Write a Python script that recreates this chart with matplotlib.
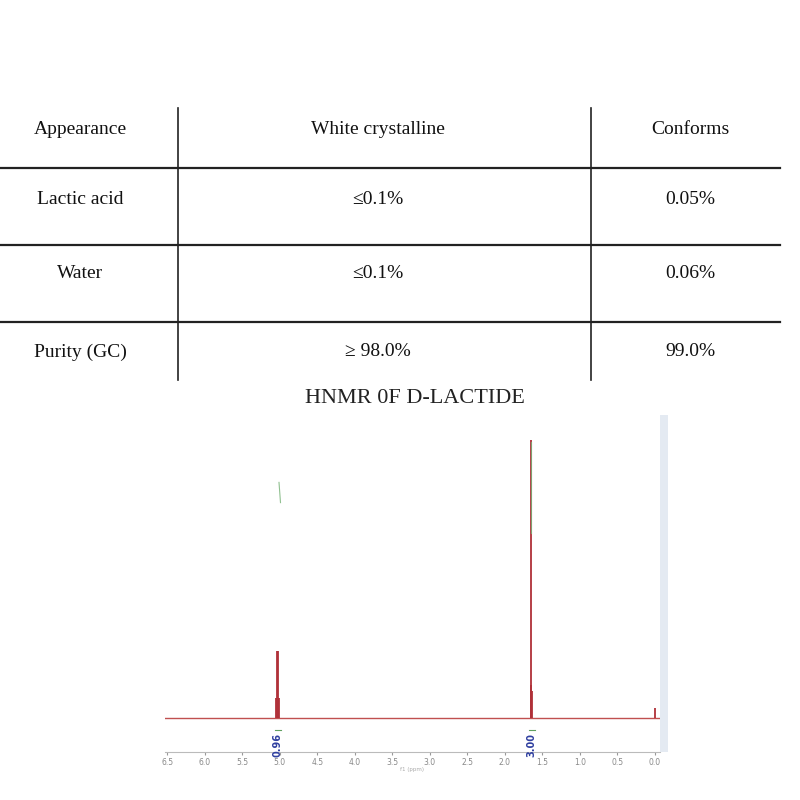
import matplotlib

matplotlib.use("Agg")
import matplotlib.pyplot as plt
from matplotlib.lines import Line2D

# table content
row_labels = ["Appearance", "Lactic acid", "Water", "Purity (GC)"]
specs = ["White crystalline", "≤0.1%", "≤0.1%", "≥ 98.0%"]
results = ["Conforms", "0.05%", "0.06%", "99.0%"]

# spectrum peaks (ppm, relative height)
peak_ppm = [5.055, 5.04, 5.025, 5.01, 1.655, 1.645, 1.635, 0.0]
peak_height = [0.06, 0.20, 0.20, 0.06, 0.10, 0.826, 0.08, 0.03]
integral_ppm = [5.03, 1.64]
integral_labels = ["0.96", "3.00"]
ticks = [6.5, 6.0, 5.5, 5.0, 4.5, 4.0, 3.5, 3.0, 2.5, 2.0, 1.5, 1.0, 0.5, 0.0]

W = H = 800
fig = plt.figure(figsize=(8, 8), dpi=100)
fig.patch.set_facecolor("white")


def fx(px):
    return px / W


def fy(py):
    return 1 - py / H


# table grid
for y in [168, 245, 322]:
    fig.add_artist(Line2D([0, fx(780)], [fy(y), fy(y)], color="#222222", lw=1.6))
for x in [178, 591]:
    fig.add_artist(Line2D([fx(x), fx(x)], [fy(108), fy(380)], color="#222222", lw=1.2))

row_y = [130, 200, 273, 352]
for y, a, b, c in zip(row_y, row_labels, specs, results):
    for x, t in ((80, a), (378, b), (690, c)):
        fig.text(fx(x), fy(y), t, ha="center", va="center", fontsize=14,
                 family="Liberation Serif", color="#111111")

fig.text(fx(415), fy(398), "HNMR 0F D-LACTIDE", ha="center", va="center",
         fontsize=16, family="Liberation Serif", color="#222222")

# spectrum
ax = fig.add_axes([fx(165), fy(752), fx(495), fy(415) - fy(752)])
ax.set_xlim(6.53, -0.07)
ax.set_ylim(-0.1, 0.9)
ax.axhline(0, color="#c05050", lw=1)
ax.vlines(peak_ppm, 0, peak_height, color="#b03038", lw=1.3)
for p, lab in zip(integral_ppm, integral_labels):
    ax.text(p, -0.045, lab, rotation=90, ha="center", va="top", fontsize=7,
            color="#3040a0", fontweight="bold")
    ax.plot([p - 0.04, p + 0.04], [-0.035, -0.035], color="#60a060", lw=0.8)
ax.plot([4.99, 5.01], [0.64, 0.70], color="#90c090", lw=0.8)
ax.plot([1.655, 1.655], [0.55, 0.82], color="#80a070", lw=0.8)
ax.set_xticks(ticks)
ax.set_xticklabels([f"{t:.1f}" for t in ticks], fontsize=5.5, color="#888888")
ax.tick_params(axis="x", length=2, color="#999999", pad=2)
ax.set_yticks([])
for s in ["top", "left", "right"]:
    ax.spines[s].set_visible(False)
ax.spines["bottom"].set_color("#bbbbbb")
ax.set_xlabel("f1 (ppm)", fontsize=4, color="#aaaaaa", labelpad=0)
fig.add_artist(plt.Rectangle((fx(660), fy(752)), fx(8), fy(415) - fy(752),
                             color="#e4eaf2", lw=0))

fig.savefig("out.png", dpi=100)
